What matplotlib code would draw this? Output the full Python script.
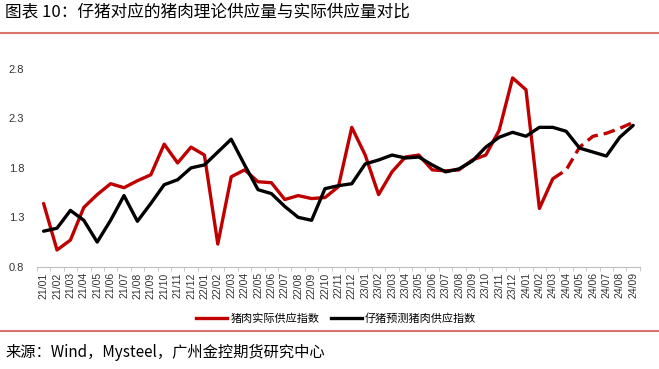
import numpy as np
import matplotlib
matplotlib.use('Agg')
import matplotlib.pyplot as plt
from matplotlib.lines import Line2D

plt.rcParams['font.family'] = ['Noto Sans CJK SC', 'DejaVu Sans']
plt.rcParams['axes.unicode_minus'] = False

# 月份标签 21/01 - 24/09
months = [f'{y}/{m:02d}' for y in (21, 22, 23, 24) for m in range(1, 13)][:45]

# 猪肉实际供应指数（实线部分到24/03，之后为虚线）
actual = [1.44, 0.97, 1.07, 1.40, 1.53, 1.64, 1.60, 1.67, 1.73, 2.04, 1.85, 2.01,
          1.93, 1.03, 1.71, 1.78, 1.66, 1.65, 1.48, 1.52, 1.49, 1.50, 1.61, 2.21,
          1.93, 1.53, 1.76, 1.91, 1.93, 1.78, 1.77, 1.78, 1.88, 1.93, 2.18, 2.71,
          2.59, 1.39, 1.69]
actual_fcst = [1.69, 1.78, 2.01, 2.12, 2.15, 2.20, 2.26]  # 24/03 - 24/09

# 仔猪预测猪肉供应指数
predicted = [1.16, 1.19, 1.37, 1.27, 1.05, 1.27, 1.52, 1.26, 1.44, 1.63, 1.68, 1.80,
             1.83, 1.96, 2.09, 1.83, 1.58, 1.54, 1.41, 1.30, 1.27, 1.59, 1.62, 1.64,
             1.84, 1.88, 1.93, 1.90, 1.91, 1.83, 1.76, 1.79, 1.87, 2.01, 2.11, 2.16,
             2.12, 2.21, 2.21, 2.17, 2.00, 1.96, 1.92, 2.11, 2.23]

yticks = [0.8, 1.3, 1.8, 2.3, 2.8]

red = '#c00000'
fig = plt.figure(figsize=(6.59, 3.69), dpi=100)
ax = fig.add_axes([0.056, 0.277, 0.915, 0.536])

x = np.arange(len(months))
ax.plot(x[:len(actual)], actual, color=red, lw=2.4, solid_joinstyle='round',
        solid_capstyle='round', zorder=3)
x_f = x[len(actual) - 1:]
ax.plot(x_f, actual_fcst, color=red, lw=2.4, ls=(0, (3.5, 1.8)), zorder=3)
ax.plot(x, predicted, color='black', lw=2.4, solid_joinstyle='round',
        solid_capstyle='round', zorder=4)

ax.set_xlim(-0.5, len(months) - 0.5)
ax.set_ylim(0.8, 2.8)
ax.set_yticks(yticks)
ax.set_yticklabels([f'{v:.1f}' for v in yticks], family='Liberation Sans',
                   fontsize=8, color='#333333')
ax.set_xticks(x)
ax.set_xticklabels(months, rotation=90, family='Liberation Sans', fontsize=7.5,
                   color='#333333')
ax.set_xticks(np.arange(-0.5, len(months), 1), minor=True)
ax.tick_params(axis='x', which='major', length=0, pad=4)
ax.tick_params(axis='x', which='minor', length=3, color='#bfbfbf')
ax.tick_params(axis='y', length=0, pad=9)
for s in ['top', 'right', 'left']:
    ax.spines[s].set_visible(False)
ax.spines['bottom'].set_color('#bfbfbf')
ax.spines['bottom'].set_linewidth(0.8)

handles = [Line2D([], [], color=red, lw=2.4), Line2D([], [], color='black', lw=2.4)]
fig.legend(handles, ['猪肉实际供应指数', '仔猪预测猪肉供应指数'], loc='center',
           bbox_to_anchor=(0.51, 0.138), ncol=2, frameon=False, fontsize=8,
           handlelength=2.8, handletextpad=0.3, columnspacing=1.0)

# 标题与来源
fig.text(0.008, 0.965, '图表 10：仔猪对应的猪肉理论供应量与实际供应量对比',
         fontsize=12, va='center', ha='left')
fig.text(0.008, 0.046, '来源：Wind，Mysteel，广州金控期货研究中心',
         fontsize=11, va='center', ha='left')
fig.add_artist(Line2D([0, 1], [0.911, 0.911], color='#d9736e', lw=1.5))
fig.add_artist(Line2D([0, 1], [0.103, 0.103], color='#d9736e', lw=1.5))

fig.savefig('out.png', dpi=100)
